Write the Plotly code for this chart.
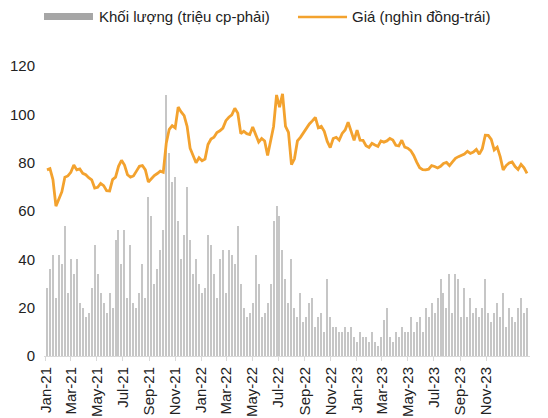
import pandas as pd
import plotly.graph_objects as go

# Weekly price (nghìn đồng)
price_2021a = [77, 77.5, 73, 62, 65, 68, 74, 74.5, 76, 79, 77, 77.4, 75.6, 75, 73.8, 72.9, 69.5, 69.8, 71.4, 70.5, 68.4, 68.3, 73, 74, 78.5, 81, 79]
price_2021b = [75, 74, 74.5, 76.5, 78.5, 78.8, 77, 72, 73.4, 74.7, 75.5, 76.5, 76, 88, 93.8, 95.3, 94.4, 103, 101, 99.5, 95, 86, 83, 80, 82, 80.8, 81.5]
price_2022a = [87.5, 89.8, 90.5, 92.5, 93.2, 94.3, 97.4, 98.8, 99.8, 102.5, 100.5, 92, 93, 92, 91.6, 94.8, 92, 88.5, 90, 89, 83, 89.5, 95, 108, 103, 108.5, 95]
price_2022b = [92.5, 79.2, 81.6, 89, 90.5, 92.5, 94.3, 96, 97.3, 98.7, 94.4, 95, 93, 88.8, 86.2, 90, 90.5, 89.3, 92.1, 93.5, 96.7, 93, 89.2, 93.5, 89.3, 89.2, 87]
price_2023a = [86.3, 88, 87.3, 86.7, 89, 88.5, 89, 90, 89.4, 87.2, 86.9, 89.3, 86.4, 86, 85, 83, 80.2, 77.9, 77.1, 77, 77.3, 78.8, 78.4, 77.8, 78.5, 79.7, 80.1]
price_2023b = [78.8, 80.3, 81.8, 82.5, 83, 83.6, 84.7, 83.8, 84.4, 85.5, 83.5, 85.8, 91.4, 91.3, 89.6, 85.3, 86.4, 82.5, 77, 78.8, 79.9, 80.3, 78.4, 77.2, 79.3, 77.9, 75.6]

# Weekly volume (triệu cp)
vol_2021a = [1.4, 1.8, 2.1, 1.2, 2.1, 1.9, 2.7, 1.3, 2.0, 1.7, 2.0, 1.1, 1.0, 0.8, 0.9, 1.4, 2.3, 1.7, 1.3, 1.1, 0.9, 1.3, 1.0, 2.4, 2.6, 1.9, 2.6]
vol_2021b = [1.2, 2.3, 1.1, 1.0, 1.3, 1.9, 1.2, 3.3, 2.9, 1.5, 1.8, 2.2, 2.6, 5.4, 4.2, 3.6, 3.7, 2.8, 2.0, 2.5, 3.5, 2.4, 1.7, 2.0, 1.5, 1.3, 1.4]
vol_2022a = [2.5, 2.3, 1.7, 1.2, 2.0, 2.2, 1.3, 2.2, 2.1, 1.9, 2.7, 1.5, 1.0, 0.8, 0.9, 1.1, 2.1, 1.5, 0.8, 0.9, 1.1, 1.5, 2.8, 3.1, 2.9, 2.2, 1.6]
vol_2022b = [1.1, 2.0, 1.0, 0.8, 1.3, 0.7, 0.8, 1.1, 1.2, 0.6, 0.8, 0.9, 0.5, 1.6, 0.8, 0.6, 0.6, 0.5, 0.5, 0.6, 0.5, 0.6, 0.4, 0.3, 0.5, 0.4, 0.4]
vol_2023a = [0.3, 0.5, 0.3, 0.2, 0.4, 0.75, 1.0, 0.4, 0.3, 0.5, 0.4, 0.6, 0.5, 0.5, 0.8, 0.5, 0.7, 0.8, 0.5, 1.0, 0.8, 1.1, 0.9, 1.2, 1.6, 1.3, 1.0]
vol_2023b = [1.7, 0.9, 1.7, 1.6, 0.8, 1.4, 0.8, 1.2, 0.9, 1.0, 0.8, 1.0, 1.6, 0.9, 0.7, 0.9, 1.1, 0.8, 1.3, 0.6, 1.0, 0.8, 0.7, 1.0, 1.2, 0.9, 1.0]

price = price_2021a + price_2021b + price_2022a + price_2022b + price_2023a + price_2023b
volume = vol_2021a + vol_2021b + vol_2022a + vol_2022b + vol_2023a + vol_2023b
dates = pd.date_range("2021-01-04", periods=len(price), freq="W-MON")

# x tick labels every two months, Jan-21 .. Nov-23
tick_dates = pd.date_range("2021-01-01", "2023-11-01", freq="2MS")
tick_labels = [d.strftime("%b-%y") for d in tick_dates]

vol_name = "Khối lượng (triệu cp-phải)"
price_name = "Giá (nghìn đồng-trái)"

FONT = "Liberation Sans"
ORANGE = "#F3A22E"
GRAY = "#A6A6A6"
TXT = "#222222"

fig = go.Figure()
fig.add_trace(go.Bar(x=dates, y=volume, name=vol_name, yaxis="y",
                     marker=dict(color="#C6C6C6", line=dict(width=0)),
                     width=2.6 * 86400000, showlegend=False))
fig.add_trace(go.Scatter(x=dates, y=price, name=price_name, yaxis="y2",
                         mode="lines", line=dict(color=ORANGE, width=2.8),
                         showlegend=False))

fig.update_layout(
    width=540, height=410,
    margin=dict(l=36, r=18, t=58, b=62),
    paper_bgcolor="white", plot_bgcolor="white",
    font=dict(family=FONT, size=15, color=TXT),
    bargap=0,
    xaxis=dict(type="date", range=["2020-12-28", "2024-02-12"],
               tickvals=list(tick_dates), ticktext=tick_labels,
               tickangle=-90, showgrid=False, showline=True,
               linecolor="#D9D9D9", linewidth=1, ticks="outside",
               ticklen=4, tickcolor="#D9D9D9", automargin=False,
               tickfont=dict(family=FONT, size=15, color=TXT)),
    yaxis=dict(range=[0, 6], dtick=1, side="right", showgrid=False,
               zeroline=False, showline=False, ticklabelstandoff=10,
               automargin=False,
               tickfont=dict(family=FONT, size=15, color=TXT)),
    yaxis2=dict(range=[0, 120], dtick=20, side="left", overlaying="y",
                showgrid=False, zeroline=False, showline=False,
                ticklabelstandoff=8, automargin=False,
                tickfont=dict(family=FONT, size=15, color=TXT)),
    showlegend=False,
)

# Custom legend
fig.add_shape(type="rect", xref="paper", yref="paper",
              x0=0.0, x1=0.1008, y0=1.1586, y1=1.1828,
              fillcolor=GRAY, line=dict(width=0))
fig.add_annotation(xref="paper", yref="paper", x=0.109, y=1.169,
                   text=vol_name, showarrow=False, xanchor="left",
                   yanchor="middle", font=dict(family=FONT, size=15, color=TXT))
fig.add_shape(type="line", xref="paper", yref="paper",
              x0=0.5226, x1=0.6235, y0=1.169, y1=1.169,
              line=dict(color=ORANGE, width=2.5))
fig.add_annotation(xref="paper", yref="paper", x=0.6296, y=1.169,
                   text=price_name, showarrow=False, xanchor="left",
                   yanchor="middle", font=dict(family=FONT, size=15, color=TXT))

fig.write_html("out.html")
